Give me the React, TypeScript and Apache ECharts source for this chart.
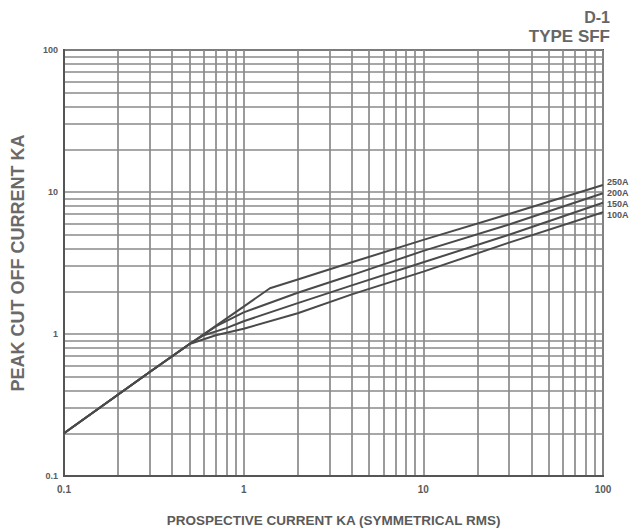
import React, { useEffect, useRef } from "react";
import * as echarts from "echarts";

const seriesNames = ["250A", "200A", "150A", "100A"];
const data250A = [[0.1, 0.2], [0.3, 0.54], [0.5, 0.85], [0.7, 1.14], [1, 1.56], [1.4, 2.1], [2, 2.42], [4, 3.2], [10, 4.6], [30, 7.0], [100, 11.2]];
const data200A = [[0.1, 0.2], [0.3, 0.54], [0.5, 0.85], [0.7, 1.13], [1, 1.42], [2, 1.95], [4, 2.6], [10, 3.85], [30, 5.9], [100, 9.8]];
const data150A = [[0.1, 0.2], [0.3, 0.54], [0.5, 0.85], [0.6, 0.98], [0.8, 1.1], [1, 1.23], [2, 1.65], [4, 2.2], [10, 3.2], [30, 5.0], [100, 8.4]];
const data100A = [[0.1, 0.2], [0.3, 0.54], [0.5, 0.85], [0.7, 0.98], [1, 1.09], [2, 1.4], [4, 1.9], [10, 2.75], [30, 4.4], [100, 7.2]];
const seriesData = [data250A, data200A, data150A, data100A];
const titleLines = ["D-1", "TYPE SFF"];
const xAxisName = "PROSPECTIVE CURRENT KA (SYMMETRICAL RMS)";
const yAxisName = "PEAK CUT OFF CURRENT KA";

const FONT = "'Liberation Sans', Arial, sans-serif";
const GRID_COLOR = "#8a8a8a";
const TEXT_COLOR = "#5a5a5a";

export default function App() {
  const ref = useRef<HTMLDivElement>(null);
  useEffect(() => {
    if (!ref.current) return;
    const chart = echarts.init(ref.current, undefined, { renderer: "svg" });
    const axisCommon = {
      type: "log" as const,
      logBase: 10,
      min: 0.1,
      max: 100,
      axisLine: { show: true, lineStyle: { color: "#555", width: 2 } },
      axisTick: { show: false },
      minorTick: { show: false, splitNumber: 9 },
      splitLine: { show: true, lineStyle: { color: GRID_COLOR, width: 1.7 } },
      minorSplitLine: { show: true, lineStyle: { color: GRID_COLOR, width: 1.7 } },
      axisLabel: {
        color: TEXT_COLOR,
        fontFamily: FONT,
        fontWeight: "bold" as const,
        fontSize: 10,
      },
    };
    chart.setOption({
      animation: false,
      backgroundColor: "#ffffff",
      grid: {
        left: 64,
        right: 38,
        top: 50,
        bottom: 55,
        containLabel: false,
        outerBoundsMode: "none",
        show: true,
        borderColor: "#555",
        borderWidth: 2,
        backgroundColor: "transparent",
      },
      xAxis: {
        ...axisCommon,
        name: xAxisName,
        nameLocation: "middle",
        nameGap: 37,
        nameTextStyle: { color: TEXT_COLOR, fontFamily: FONT, fontWeight: "bold", fontSize: 13.5 },
        axisLabel: { ...axisCommon.axisLabel, margin: 8 },
      },
      yAxis: {
        ...axisCommon,
        name: yAxisName,
        nameLocation: "middle",
        nameGap: 37,
        nameTextStyle: { color: "#6a6a6a", fontFamily: FONT, fontWeight: "bold", fontSize: 18 },
        axisLabel: { ...axisCommon.axisLabel, fontSize: 9, margin: 6 },
      },
      series: seriesNames.map((name, i) => ({
        name,
        type: "line",
        data: seriesData[i],
        showSymbol: false,
        symbol: "none",
        lineStyle: { color: "#4a4a4a", width: 2 },
        z: 3,
      })),
      graphic: [
        {
          type: "text",
          right: 31,
          top: 9,
          style: { text: titleLines[0], fill: "#666", font: `bold 16px ${FONT}`, textAlign: "right" },
        },
        {
          type: "text",
          right: 31,
          top: 28,
          style: { text: titleLines[1], fill: "#666", font: `bold 17px ${FONT}`, textAlign: "right" },
        },
        ...seriesNames.map((name, i) => ({
          type: "text",
          left: 607,
          top: 177 + i * 11,
          style: { text: name, fill: "#555", font: `bold 9px ${FONT}` },
        })),
      ],
    });
    return () => chart.dispose();
  }, []);
  return <div ref={ref} style={{ position: "fixed", left: 0, top: 0, width: 641, height: 531 }} />;
}
